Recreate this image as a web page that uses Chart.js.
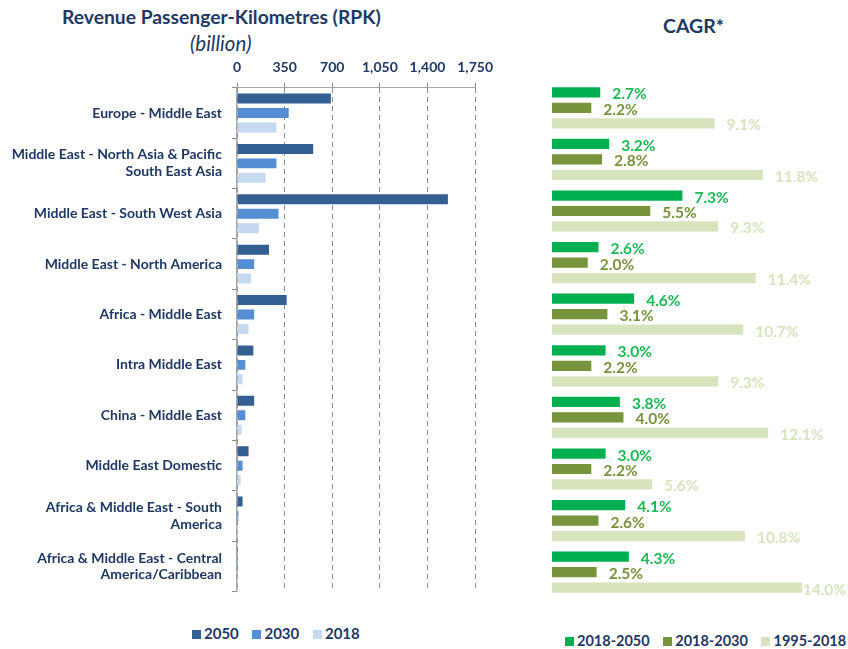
<!DOCTYPE html>
<html>
<head>
<meta charset="utf-8">
<script src="https://cdn.jsdelivr.net/npm/chart.js@4.4.1/dist/chart.umd.min.js"></script>
<style>
  body { margin:0; background:#fff; width:848px; height:649px; position:relative; overflow:hidden; font-family:Lato, "Open Sans", sans-serif; }
  .txt { position:absolute; color:#1F3864; white-space:nowrap; }
  #leftBox { position:absolute; left:0; top:48px; width:500px; height:562px; }
  #rightBox { position:absolute; left:545px; top:75px; width:303px; height:530px; }
  .lg { position:absolute; font-weight:bold; font-size:15px; color:#1F3864; white-space:nowrap; }
  .lg span.sw { display:inline-block; width:9px; height:9px; margin-right:3px; }
  .lg span.it { margin-right:10px; }
  #lgRight { font-size:14.5px; }
</style>
</head>
<body>
<div class="txt" style="left:62px;top:5px;font-size:19.3px;font-weight:bold;">Revenue Passenger-Kilometres (RPK)</div>
<div class="txt" style="left:190px;top:31px;font-size:20.5px;font-style:italic;">(billion)</div>
<div class="txt" style="left:663px;top:14px;font-size:19.5px;font-weight:bold;">CAGR*</div>

<div id="leftBox"><canvas id="rpkChart"></canvas></div>
<div id="rightBox"><canvas id="cagrChart"></canvas></div>

<div class="lg" style="left:192px;top:624px;">
  <span class="sw" style="background:#335F92"></span><span class="it">2050</span>
  <span class="sw" style="background:#558ED5"></span><span class="it">2030</span>
  <span class="sw" style="background:#C6D9F1"></span><span>2018</span>
</div>
<div class="lg" id="lgRight" style="left:565px;top:632px;">
  <span class="sw" style="background:#00B050"></span><span class="it">2018-2050</span>
  <span class="sw" style="background:#77933C"></span><span class="it">2018-2030</span>
  <span class="sw" style="background:#D7E4BD"></span><span>1995-2018</span>
</div>

<script>
// routes (categories)
const routes = [
    "Europe - Middle East",
    ["Middle East - North Asia & Pacific", "South East Asia"],
    "Middle East - South West Asia",
    "Middle East - North America",
    "Africa - Middle East",
    "Intra Middle East",
    "China - Middle East",
    "Middle East Domestic",
    ["Africa & Middle East - South", "America"],
    ["Africa & Middle East - Central", "America/Caribbean"]
];

// RPK, billion
const rpk2050 = [690, 560, 1550, 235, 365, 120, 126, 85, 41, 2];
const rpk2030 = [380, 290, 305, 126, 126, 61, 61, 41, 10, 1];
const rpk2018 = [290, 210, 160, 102, 85, 41, 34, 27, 8, 1];
const rpkTicks = [0, 350, 700, 1050, 1400, 1750];

// CAGR, %
const cagr2018_2050 = [2.7, 3.2, 7.3, 2.6, 4.6, 3.0, 3.8, 3.0, 4.1, 4.3];
const cagr2018_2030 = [2.2, 2.8, 5.5, 2.0, 3.1, 2.2, 4.0, 2.2, 2.6, 2.5];
const cagr1995_2018 = [9.1, 11.8, 9.3, 11.4, 10.7, 9.3, 12.1, 5.6, 10.8, 14.0];

const navy = "#1F3864";
const fontFam = "Lato, 'Open Sans', sans-serif";

const rpkCtx = document.getElementById("rpkChart").getContext("2d");
const rpkChart = new Chart(rpkCtx, {
    type: "bar",
    data: {
        labels: routes,
        datasets: [
            { label: "2050", data: rpk2050, backgroundColor: "#335F92" },
            { label: "2030", data: rpk2030, backgroundColor: "#558ED5" },
            { label: "2018", data: rpk2018, backgroundColor: "#C6D9F1" }
        ]
    },
    options: {
        indexAxis: "y",
        responsive: true,
        maintainAspectRatio: false,
        animation: false,
        categoryPercentage: 0.86,
        barPercentage: 0.69,
        layout: { padding: { top: 4, right: 23, bottom: 15, left: 0 } },
        plugins: { legend: { display: false }, tooltip: { enabled: false } },
        scales: {
            x: {
                position: "top",
                min: 0,
                max: 1750,
                afterBuildTicks: function(scale) {
                    scale.ticks = rpkTicks.map(v => ({ value: v }));
                },
                ticks: {
                    color: navy,
                    font: { family: fontFam, size: 14, weight: "bold" },
                    padding: 7,
                    callback: v => v.toLocaleString("en-US")
                },
                grid: { color: "#8c8c8c", tickLength: 5, tickColor: "#8c8c8c" },
                border: { display: true, color: "#a6a6a6", dash: [5, 4] }
            },
            y: {
                afterFit: function(scale) { scale.width = 237; },
                ticks: {
                    color: navy,
                    font: { family: fontFam, size: 14, weight: "bold" },
                    padding: 10
                },
                grid: { drawOnChartArea: false, drawTicks: true, tickLength: 5, color: "#8c8c8c" },
                border: { display: true, color: "#a6a6a6", width: 1.5 }
            }
        }
    }
});

// value labels next to CAGR bars
const cagrLabels = {
    id: "cagrLabels",
    afterDatasetsDraw(chart) {
        const ctx = chart.ctx;
        ctx.save();
        ctx.font = "bold 15.5px " + fontFam;
        ctx.textBaseline = "middle";
        ctx.textAlign = "left";
        chart.data.datasets.forEach((ds, di) => {
            const meta = chart.getDatasetMeta(di);
            meta.data.forEach((bar, i) => {
                const txt = ds.data[i].toFixed(1) + "%";
                let x = bar.x + 12;
                const w = ctx.measureText(txt).width;
                if (x + w > chart.width - 2) x = chart.width - 2 - w;
                ctx.fillStyle = ds.labelColor;
                ctx.fillText(txt, x, bar.y + 2);
            });
        });
        ctx.restore();
    }
};

const cagrCtx = document.getElementById("cagrChart").getContext("2d");
const cagrChart = new Chart(cagrCtx, {
    type: "bar",
    data: {
        labels: routes,
        datasets: [
            { label: "2018-2050", data: cagr2018_2050, backgroundColor: "#00B050", labelColor: "#1DB954" },
            { label: "2018-2030", data: cagr2018_2030, backgroundColor: "#77933C", labelColor: "#77933C" },
            { label: "1995-2018", data: cagr1995_2018, backgroundColor: "#D7E4BD", labelColor: "#D7E4BD" }
        ]
    },
    options: {
        indexAxis: "y",
        responsive: true,
        maintainAspectRatio: false,
        animation: false,
        categoryPercentage: 0.9,
        barPercentage: 0.66,
        layout: { padding: { top: 7, right: 28, bottom: 7, left: 7 } },
        plugins: { legend: { display: false }, tooltip: { enabled: false } },
        scales: {
            x: { display: false, min: 0, max: 15 },
            y: { display: false }
        }
    },
    plugins: [cagrLabels]
});
</script>
</body>
</html>
